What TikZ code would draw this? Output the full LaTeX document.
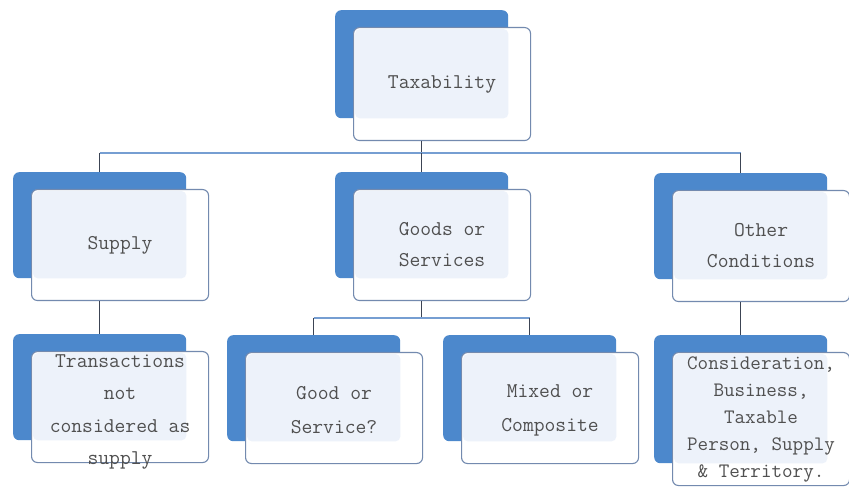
\documentclass[tikz,border=0pt]{standalone}
\usepackage{fontspec}
\usetikzlibrary{calc}
\definecolor{backblue}{RGB}{76,136,204}
\definecolor{frontedge}{RGB}{115,138,175}
\definecolor{innerfill}{RGB}{237,242,250}
\definecolor{txtgray}{RGB}{80,80,80}
\definecolor{conndark}{RGB}{60,68,84}
\definecolor{busblue}{RGB}{118,158,210}
\tikzset{
  backbox/.style={rectangle, fill=backblue, rounded corners=6pt, minimum width=173pt, inner sep=0pt, anchor=north west},
  frontbox/.style={rectangle, draw=frontedge, line width=1.1pt, fill=white, rounded corners=6pt, minimum width=177pt, inner sep=0pt, anchor=north west},
  innerbox/.style={fill=innerfill, rounded corners=5pt},
  txt/.style={text=txtgray, align=center, font=\ttfamily\fontsize{21}{31}\selectfont, inner sep=0pt},
  conn/.style={draw=conndark, line width=1pt},
  bus/.style={draw=busblue, line width=2.5pt},
}
% name, x, y, blue height, text, node options
\newcommand\mybox[6]{%
  \node[backbox, minimum height=#4pt] (#1b) at (#2,#3) {};
  \node[frontbox, minimum height=#4pt+5pt] (#1) at ($(#1b.north west)+(18,17)$) {};
  \fill[innerbox] ($(#1.north west)+(2,2)$) rectangle ($(#1b.south east)$);
  \node[txt, #6] (#1t) at (#1.center) {#5};
}
\begin{document}
\begin{tikzpicture}[x=1pt,y=-1pt]
\useasboundingbox (0,0) rectangle (849,494);
\fill[white] (0,0) rectangle (849,494);
\coordinate (busy) at (0,153);
\coordinate (subbusy) at (0,318);
\mybox{tax}{335}{10}{108}{Taxability}{}
\mybox{sup}{13}{172}{106}{Supply}{}
\mybox{gos}{335}{172}{106}{Goods or\\Services}{}
\mybox{oth}{654}{173}{106}{Other\\Conditions}{}
\mybox{tra}{13}{334}{106}{Transactions\\not\\considered as\\supply}{font=\ttfamily\fontsize{21}{32.5}\selectfont, yshift=-5pt}
\mybox{gor}{227}{335}{106}{Good or\\Service?}{font=\ttfamily\fontsize{21}{34}\selectfont, yshift=-2pt}
\mybox{mix}{443}{335}{106}{Mixed or\\Composite}{font=\ttfamily\fontsize{21}{34}\selectfont, yshift=-2pt}
\mybox{con}{654}{335}{128}{Consideration,\\Business,\\Taxable\\Person, Supply\\\& Territory.}{font=\ttfamily\fontsize{20.5}{27}\selectfont}
% top-level bus
\draw[conn] (taxb.center |- tax.south) -- (taxb.center |- busy);
\draw[bus] (supb.center |- busy) -- (othb.center |- busy);
\draw[conn] (supb.center |- busy) -- (supb.north);
\draw[conn] (gosb.center |- busy) -- (gosb.north);
\draw[conn] (othb.center |- busy) -- (othb.north);
% second level
\draw[conn] (supb.center |- sup.south) -- (trab.north);
\draw[conn] (gosb.center |- gos.south) -- (gosb.center |- subbusy);
\draw[bus] (gorb.center |- subbusy) -- (mixb.center |- subbusy);
\draw[conn] (gorb.center |- subbusy) -- (gorb.north);
\draw[conn] (mixb.center |- subbusy) -- (mixb.north);
\draw[conn] (othb.center |- oth.south) -- (conb.north);
\end{tikzpicture}
\end{document}
